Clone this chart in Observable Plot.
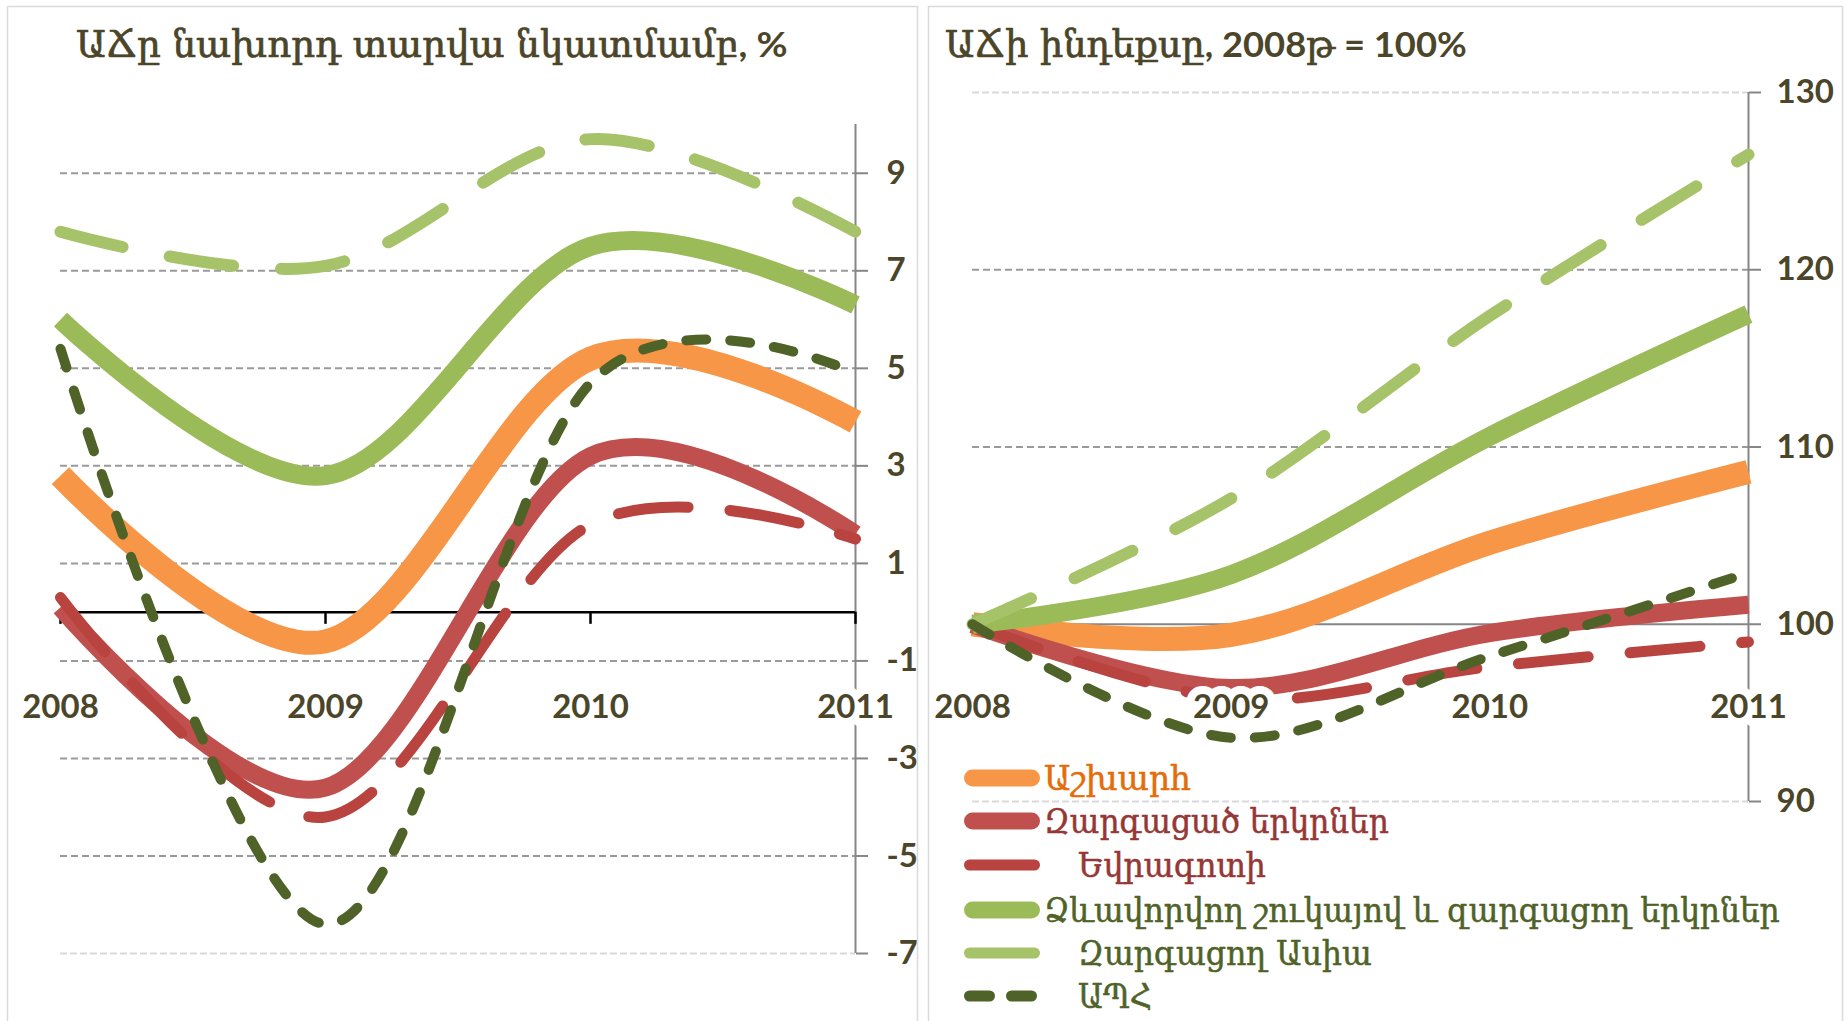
<!DOCTYPE html>
<html><head><meta charset="utf-8">
<script src="https://cdn.jsdelivr.net/npm/d3@7"></script>
<script src="https://cdn.jsdelivr.net/npm/@observablehq/plot@0.6"></script>
<style>
html,body{margin:0;padding:0;background:#fff;}
#wrap{position:relative;width:1845px;height:1021px;overflow:hidden;background:#fff;}
#wrap > svg{position:absolute;}
</style></head>
<body><div id="wrap"></div>
<script>
// ---------------- data ----------------
const years = [2008, 2009, 2010, 2011];
const seriesNames = ["Աշխարհ", "Զարգացած երկրներ", "Եվրագոտի",
  "Ձևավորվող շուկայով և զարգացող երկրներ", "Զարգացող Ասիա", "ԱՊՀ"];

// left panel: GDP growth vs previous year, %
const worldGrowth    = [2.8, -0.6, 5.2, 3.9];
const advancedGrowth = [0.1, -3.6, 3.2, 1.6];
const euroGrowth     = [0.3, -4.2, 1.8, 1.5];
const emergingGrowth = [6.0, 2.8, 7.5, 6.3];
const asiaGrowth     = [7.8, 7.1, 9.7, 7.8];
const cisGrowth      = [5.4, -6.4, 4.7, 4.9];

// right panel: GDP index, 2008 = 100
const worldIndex    = [100, 99.4, 104.6, 108.6];
const advancedIndex = [100, 96.4, 99.5, 101.1];
const euroIndex     = [100, 95.8, 97.6, 99.0];
const emergingIndex = [100, 102.8, 110.6, 117.5];
const asiaIndex     = [100, 107.1, 117.4, 126.5];
const cisIndex      = [100, 93.6, 98.2, 102.9];

const growthTicks = [-7, -5, -3, -1, 1, 3, 5, 7, 9];
const indexTicks  = [90, 100, 110, 120, 130];

// title pieces: [text, isArmenian]
const leftTitle  = [["ԱՃը նախորդ տարվա նկատմամբ", true], [", %", false]];
const rightTitle = [["ԱՃի ինդեքսը", true], [", 2008", false], ["թ", true], [" = 100%", false]];

// ---------------- styles ----------------
const seriesStyles = [
  {color: "#F79646", width: 24, dash: null},
  {color: "#C0504D", width: 18, dash: null},
  {color: "#B8433F", width: 11, dash: "70,42"},
  {color: "#9BBB59", width: 19, dash: null},
  {color: "#A6C36A", width: 12, dash: "64,48"},
  {color: "#4F6228", width: 10, dash: "20,24"}
];
const textColor = "#4B4529";
const axisGray = "#868686";
const gridGray = "#9A9A9A";
const faintGray = "#D9D9D9";
const numFont = "Lato, 'DejaVu Sans', sans-serif";
const armFont = "'DejaVu Serif Condensed', 'DejaVu Serif', serif";

function buildRows(list) {
  return list.flatMap((arr, i) => years.map((yr, j) => ({series: i, year: yr, value: arr[j]})));
}
const leftRows = buildRows([worldGrowth, advancedGrowth, euroGrowth, emergingGrowth, asiaGrowth, cisGrowth]);
const rightRows = buildRows([worldIndex, advancedIndex, euroIndex, emergingIndex, asiaIndex, cisIndex]);

function lineMarks(rows) {
  return seriesStyles.map((s, i) => Plot.line(rows.filter(r => r.series === i), {
    x: "year", y: "value", curve: "cardinal", tension: 0,
    stroke: s.color, strokeWidth: s.width,
    strokeDasharray: s.dash || undefined,
    strokeLinecap: s.dash ? "round" : "butt", strokeLinejoin: "round"
  }));
}

const plotStyle = {fontFamily: numFont, fontSize: "33px", fontWeight: "bold",
  color: textColor, background: "transparent", overflow: "visible"};

const wrap = document.getElementById("wrap");

// ---------------- left chart ----------------
const left = Plot.plot({
  width: 918, height: 1021,
  marginLeft: 60, marginRight: 63, marginTop: 124, marginBottom: 68,
  x: {domain: [2008, 2011], axis: null},
  y: {domain: [-7, 10]},
  style: plotStyle,
  marks: [
    Plot.ruleY(growthTicks.filter(v => v !== -7), {stroke: gridGray, strokeWidth: 2, strokeDasharray: "7,4"}),
    Plot.ruleY([-7], {stroke: faintGray, strokeWidth: 2, strokeDasharray: "7,3"}),
    Plot.ruleX([2011], {y1: -7, y2: 10, stroke: axisGray, strokeWidth: 2}),
    Plot.axisY({anchor: "right", ticks: growthTicks, tickSize: 12, tickPadding: 19,
      tickFormat: d => String(d), stroke: axisGray, strokeWidth: 2, fill: textColor, label: null}),
    Plot.ruleY([0], {stroke: "#000", strokeWidth: 2.5}),
    Plot.ruleX(years, {x: d => d, y1: 0, y2: -0.25, stroke: "#000", strokeWidth: 2.5}),
    ...lineMarks(leftRows),
    Plot.text(years, {x: d => d, frameAnchor: "bottom", dy: -236, text: d => String(d),
      fill: textColor, stroke: "white", strokeWidth: 16, strokeLinejoin: "round"})
  ]
});
left.style.left = "0px"; left.style.top = "0px";
wrap.appendChild(left);

// ---------------- right chart ----------------
const right = Plot.plot({
  width: 920, height: 1021,
  marginLeft: 47, marginRight: 97, marginTop: 92, marginBottom: 220,
  x: {domain: [2008, 2011], axis: null},
  y: {domain: [90, 130]},
  style: plotStyle,
  marks: [
    Plot.ruleY([110, 120], {stroke: gridGray, strokeWidth: 2, strokeDasharray: "7,4"}),
    Plot.ruleY([90, 130], {stroke: faintGray, strokeWidth: 2, strokeDasharray: "7,3"}),
    Plot.ruleX([2011], {y1: 90, y2: 130, stroke: axisGray, strokeWidth: 2}),
    Plot.axisY({anchor: "right", ticks: indexTicks, tickSize: 12, tickPadding: 16,
      tickFormat: d => String(d), stroke: axisGray, strokeWidth: 2, fill: textColor, label: null}),
    Plot.ruleY([100], {stroke: axisGray, strokeWidth: 2}),
    ...lineMarks(rightRows),
    Plot.text(years, {x: d => d, frameAnchor: "bottom", dy: -84, text: d => String(d),
      fill: textColor, stroke: "white", strokeWidth: 16, strokeLinejoin: "round"})
  ]
});
right.style.left = "925px"; right.style.top = "0px";
wrap.appendChild(right);

// ---------------- overlay: frames, titles, legend ----------------
const svg = d3.select(wrap).append("svg")
  .attr("width", 1845).attr("height", 1021)
  .style("left", "0px").style("top", "0px").style("pointer-events", "none");

svg.append("rect").attr("x", 7.5).attr("y", 6.5).attr("width", 910).attr("height", 1040)
  .attr("fill", "none").attr("stroke", faintGray).attr("stroke-width", 1.5);
svg.append("rect").attr("x", 928.5).attr("y", 6.5).attr("width", 914).attr("height", 1040)
  .attr("fill", "none").attr("stroke", faintGray).attr("stroke-width", 1.5);

// a flowing text (tspans) scaled horizontally to a target width
function fittedText(x, y, pieces, armSize, numSize, target, color, thicken) {
  const g = svg.append("g");
  const t = g.append("text").attr("x", 0).attr("y", 0).attr("fill", color);
  if (thicken) t.attr("stroke", color).attr("stroke-width", thicken).attr("stroke-linejoin", "round");
  pieces.forEach(([str, arm]) => {
    const sp = t.append("tspan").text(str);
    if (arm) sp.attr("font-family", armFont).attr("font-size", armSize).attr("font-stretch", "condensed");
    else sp.attr("font-family", numFont).attr("font-size", numSize).attr("font-weight", "bold")
      .attr("stroke-width", 0);
  });
  const natural = t.node().getComputedTextLength();
  let sx = natural > 0 ? target / natural : 1;
  sx = Math.max(0.8, Math.min(1.2, sx));
  g.attr("transform", `translate(${x},${y}) scale(${sx},1)`);
  return g;
}

fittedText(76, 57, leftTitle, 38, 35, 712, textColor, 0.7);
fittedText(945, 57, rightTitle, 38, 34, 522, textColor, 0.7);

// legend
const legendText = ["#E46C0A", "#953735", "#953735", "#4F6228", "#4F6228", "#4F6228"];
const legendBase = [790, 833, 877, 922, 965, 1008];
const legendX = [1044, 1044, 1078, 1044, 1078, 1078];
const legendW = [147, 345, 188, 736, 294, 74];
const legendSwatchDash = [null, null, null, null, null, "20,22"];
seriesNames.forEach((name, i) => {
  const s = seriesStyles[i];
  const cy = legendBase[i] - 12;
  const w = s.dash ? 11 : 17;
  svg.append("line")
    .attr("x1", 964 + w / 2).attr("x2", 1040 - w / 2)
    .attr("y1", cy).attr("y2", cy)
    .attr("stroke", s.color).attr("stroke-width", w)
    .attr("stroke-linecap", "round")
    .attr("stroke-dasharray", legendSwatchDash[i]);
  fittedText(legendX[i], legendBase[i], [[name, true]], 34, 34, legendW[i], legendText[i], 0.5);
});
</script>
</body></html>
